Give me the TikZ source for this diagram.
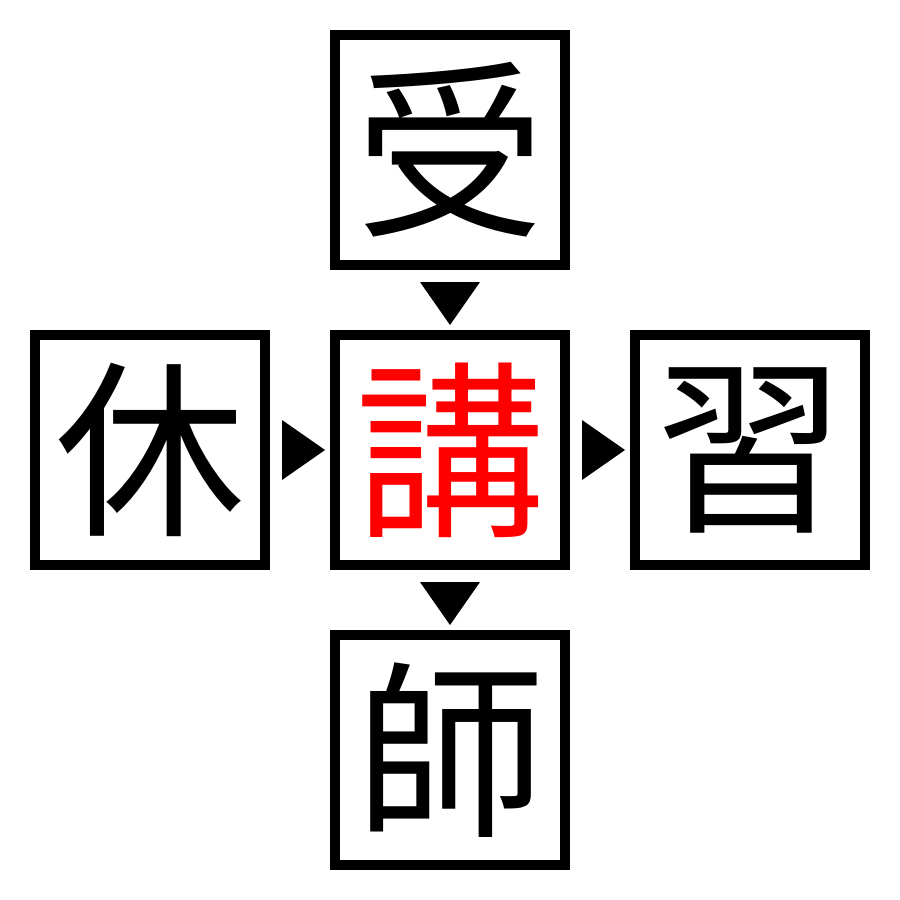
\documentclass[tikz,border=0pt]{standalone}
\usepackage{fontspec}
\newfontfamily\cjk{Noto Sans CJK JP}
\begin{document}
\begin{tikzpicture}[x=0.01cm,y=-0.01cm,
  kbox/.style={draw=black,line width=10*0.2845pt,minimum size=230*0.2845pt,inner sep=0pt,font=\cjk\fontsize{54}{54}\selectfont},
  tri/.style={fill=black}]
\useasboundingbox (0,0) rectangle (900,900);
\node[kbox] (top) at (450,150) {受};
\node[kbox] (left) at (150,450) {休};
\node[kbox,text=red] (mid) at (450,450) {講};
\node[kbox] (right) at (750,450) {習};
\node[kbox] (bot) at (450,750) {師};
\fill[tri] (420,282) -- (480,282) -- (450,325) -- cycle;
\fill[tri] (420,582) -- (480,582) -- (450,625) -- cycle;
\fill[tri] (282,420) -- (282,480) -- (325,450) -- cycle;
\fill[tri] (582,420) -- (582,480) -- (625,450) -- cycle;
\end{tikzpicture}
\end{document}
